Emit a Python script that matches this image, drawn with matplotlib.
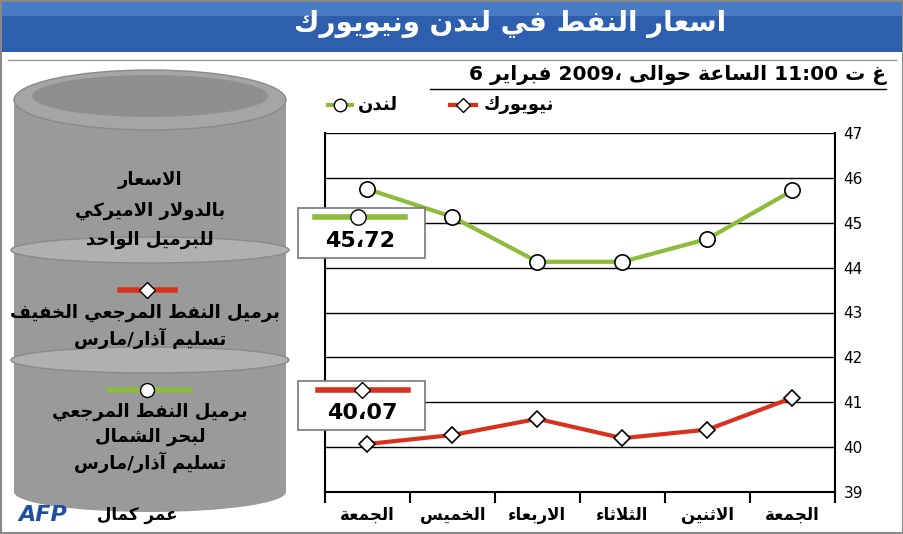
import matplotlib
matplotlib.use("Agg")
import matplotlib.pyplot as plt
from matplotlib.patches import Rectangle, Ellipse

days = ["الجمعة", "الخميس", "الاربعاء", "الثلاثاء", "الاثنين", "الجمعة"]
london = [45.75, 45.13, 44.13, 44.13, 44.64, 45.72]
newyork = [40.07, 40.27, 40.63, 40.20, 40.39, 41.10]
yticks = [39, 40, 41, 42, 43, 44, 45, 46, 47]

F4 = {'ب':0xFE8F,'ت':0xFE95,'ث':0xFE99,'ج':0xFE9D,'ح':0xFEA1,'خ':0xFEA5,'س':0xFEB1,'ش':0xFEB5,
      'ص':0xFEB9,'ض':0xFEBD,'ط':0xFEC1,'ظ':0xFEC5,'ع':0xFEC9,'غ':0xFECD,'ف':0xFED1,'ق':0xFED5,
      'ك':0xFED9,'ل':0xFEDD,'م':0xFEE1,'ن':0xFEE5,'ه':0xFEE9,'ي':0xFEF1}
F2 = {'آ':0xFE81,'أ':0xFE83,'إ':0xFE87,'ا':0xFE8D,'ة':0xFE93,'د':0xFEA9,'ذ':0xFEAB,'ر':0xFEAD,
      'ز':0xFEAF,'و':0xFEED,'ى':0xFEEF}
LA = {'ا':0xFEFB,'آ':0xFEF5,'أ':0xFEF7,'إ':0xFEF9}

def shape(w):
    out = []
    i = 0
    n = len(w)
    while i < n:
        c = w[i]
        pj = i > 0 and w[i-1] in F4
        if c == 'ل' and i+1 < n and w[i+1] in LA:
            out.append(chr(LA[w[i+1]] + (1 if pj else 0)))
            i += 2
            continue
        nj = i+1 < n and (w[i+1] in F4 or w[i+1] in F2)
        if c in F4:
            b = F4[c]
            if pj and nj: out.append(chr(b+3))
            elif pj: out.append(chr(b+1))
            elif nj: out.append(chr(b+2))
            else: out.append(chr(b))
        elif c in F2:
            out.append(chr(F2[c] + (1 if pj else 0)))
        else:
            out.append(c)
        i += 1
    return ''.join(reversed(out))

def isar(t):
    return any(ch in F4 or ch in F2 for ch in t)

def vis(tokens):
    return ' '.join(shape(t) if isar(t) else t for t in tokens)

def ar(text):
    return vis(list(reversed(text.split(' '))))

plt.rcParams['font.family'] = ['DejaVu Sans']
fig = plt.figure(figsize=(9.04, 5.34), dpi=100)
bg = fig.add_axes([0, 0, 1, 1])
bg.set_xlim(0, 904); bg.set_ylim(534, 0); bg.axis('off')

# frame and title
bg.add_patch(Rectangle((1, 1), 902, 532, fc='white', ec='#888888', lw=1.5))
bg.add_patch(Rectangle((2, 2), 900, 50, fc='#2d5fae', ec='none'))
bg.add_patch(Rectangle((2, 2), 900, 14, fc='#4a7cc6', ec='none'))
bg.text(510, 24, ar("اسعار النفط في لندن ونيويورك"), color='white', fontsize=20,
        fontweight='bold', ha='center', va='center')
bg.plot([8, 896], [60, 60], color='#999999', lw=1)
bg.text(886, 75, vis(["6", "فبراير", "2009،", "حوالى", "الساعة", "11:00", "ت", "غ"]),
        fontsize=14.5, fontweight='bold', ha='right', va='center')
bg.plot([430, 886], [89, 89], color='black', lw=1)

# barrel
bc = '#9a9a9a'
bg.add_patch(Rectangle((14, 100), 272, 392, fc=bc, ec='none'))
bg.add_patch(Ellipse((150, 492), 272, 40, fc=bc, ec='none'))
for yy in (250, 360):
    bg.add_patch(Ellipse((150, yy), 278, 26, fc='#b0b0b0', ec='#8a8a8a', lw=1))
bg.add_patch(Ellipse((150, 100), 272, 60, fc='#a5a5a5', ec='#8a8a8a', lw=1))
bg.add_patch(Ellipse((150, 96), 236, 42, fc='#8f8f8f', ec='none'))
tk = dict(fontsize=13, fontweight='bold', ha='center', va='center')
bg.text(150, 180, ar("الاسعار"), **tk)
bg.text(150, 211, ar("بالدولار الاميركي"), **tk)
bg.text(150, 240, ar("للبرميل الواحد"), **tk)
bg.plot([120, 175], [290, 290], color='#d8321e', lw=4)
bg.plot([147], [290], marker='D', ms=8, mfc='white', mec='black')
bg.text(145, 313, ar("برميل النفط المرجعي الخفيف"), **tk)
bg.text(150, 338, ar("تسليم آذار/مارس"), **tk)
bg.plot([110, 190], [390, 390], color='#8dbb3a', lw=4)
bg.plot([147], [390], marker='o', ms=10, mfc='white', mec='black')
bg.text(150, 412, ar("برميل النفط المرجعي"), **tk)
bg.text(150, 437, ar("لبحر الشمال"), **tk)
bg.text(150, 462, ar("تسليم آذار/مارس"), **tk)

# footer
bg.text(18, 515, "AFP", fontsize=16, fontweight='bold', fontstyle='italic', color='#1f4fa0',
        ha='left', va='center')
bg.text(178, 515, ar("عمر كمال"), fontsize=12, fontweight='bold', ha='right', va='center')

# legend
bg.plot([328, 352], [105, 105], color='#8dbb3a', lw=3)
bg.plot([340], [105], marker='o', ms=9, mfc='white', mec='black')
bg.text(358, 105, shape("لندن"), fontsize=13, fontweight='bold', ha='left', va='center')
bg.plot([450, 476], [105, 105], color='#d8321e', lw=3)
bg.plot([463], [105], marker='D', ms=7, mfc='white', mec='black')
bg.text(484, 105, shape("نيويورك"), fontsize=13, fontweight='bold', ha='left', va='center')

# chart
ax = fig.add_axes([325/904, 42/534, 510/904, 359/534])
ax.set_facecolor('none')
x = list(range(len(days)))
ax.plot(x, london, color='#8dbb3a', lw=3, marker='o', ms=11, mfc='white', mec='black',
        mew=1.2, zorder=3)
ax.plot(x, newyork, color='#d8321e', lw=3, marker='D', ms=8, mfc='white', mec='black',
        mew=1.2, zorder=3)
ax.set_xlim(-0.5, 5.5); ax.set_ylim(39, 47)
ax.set_yticks(yticks)
ax.yaxis.tick_right()
ax.tick_params(axis='y', length=0, labelsize=11, pad=6)
ax.grid(axis='y', color='black', lw=1)
ax.set_xticks([i - 0.5 for i in range(7)])
ax.set_xticklabels([])
ax.set_xticks(x, minor=True)
ax.set_xticklabels([shape(d) for d in days], minor=True, fontsize=12, fontweight='bold')
ax.tick_params(axis='x', which='major', length=8, width=1.5, direction='out')
ax.tick_params(axis='x', which='minor', length=0, pad=10)
ax.spines['top'].set_visible(False)
for s in ('left', 'right', 'bottom'):
    ax.spines[s].set_linewidth(1.5)

# callout boxes
top = fig.add_axes([0, 0, 1, 1], zorder=5)
top.set_xlim(0, 904); top.set_ylim(534, 0); top.axis('off')
top.add_patch(Rectangle((298, 208), 127, 50, fc='white', ec='#777777', lw=1.2))
top.plot([315, 405], [217, 217], color='#8dbb3a', lw=4)
top.plot([358], [217], marker='o', ms=11, mfc='white', mec='black')
top.text(360, 241, "45،72", fontsize=16, fontweight='bold', ha='center', va='center')
top.add_patch(Rectangle((298, 381), 127, 49, fc='white', ec='#777777', lw=1.2))
top.plot([318, 408], [390, 390], color='#d8321e', lw=4)
top.plot([362], [390], marker='D', ms=8, mfc='white', mec='black')
top.text(362, 413, "40،07", fontsize=16, fontweight='bold', ha='center', va='center')

fig.savefig("out.png", dpi=100)
